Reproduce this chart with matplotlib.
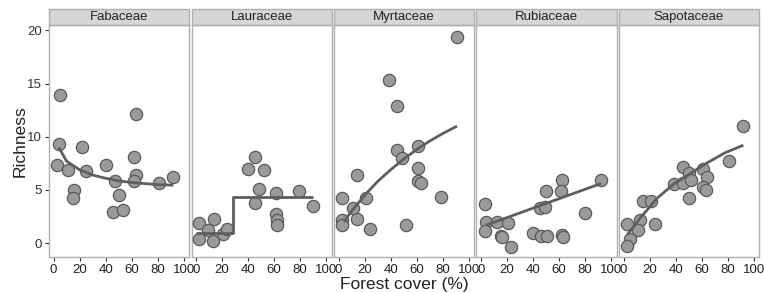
import matplotlib
matplotlib.use("Agg")
import matplotlib.pyplot as plt
from matplotlib.patches import Rectangle
import numpy as np

plt.rcParams['font.family'] = ['Liberation Sans', 'DejaVu Sans']

families = ["Fabaceae", "Lauraceae", "Myrtaceae", "Rubiaceae", "Sapotaceae"]

fab_x = [5, 4, 3, 11, 22, 25, 16, 15, 40, 47, 50, 46, 53, 63, 62, 63, 62, 81, 92]
fab_y = [13.9, 9.3, 7.3, 6.9, 9.0, 6.8, 5.0, 4.2, 7.3, 5.8, 4.5, 2.9, 3.1, 12.1, 8.1, 6.4, 5.8, 5.7, 6.2]
fab_fit_x = [4, 10, 20, 30, 40, 50, 60, 70, 80, 92]
fab_fit_y = [9.0, 7.7, 6.9, 6.4, 6.1, 5.85, 5.7, 5.6, 5.5, 5.45]

lau_x = [2, 14, 2, 13, 21, 24, 9, 45, 40, 52, 48, 45, 61, 61, 62, 62, 79, 90]
lau_y = [1.9, 2.3, 0.4, 0.2, 0.85, 1.3, 1.2, 8.1, 7.0, 6.9, 5.1, 3.8, 4.7, 2.7, 2.2, 1.7, 4.9, 3.5]
lau_fit_x = [0, 28, 28, 90]
lau_fit_y = [1.0, 1.0, 4.3, 4.3]

myr_x = [91, 39, 45, 45, 49, 61, 61, 61, 63, 79, 52, 14, 3, 21, 11, 14, 3, 3, 24]
myr_y = [19.4, 15.3, 12.9, 8.8, 8.0, 9.1, 7.1, 5.8, 5.7, 4.3, 1.7, 6.4, 4.2, 4.2, 3.3, 2.3, 2.2, 1.7, 1.3]
myr_fit_x = [4, 10, 20, 30, 40, 50, 60, 70, 80, 91]
myr_fit_y = [2.0, 3.0, 4.5, 5.8, 6.9, 7.9, 8.8, 9.6, 10.3, 11.0]

rub_x = [3, 4, 3, 12, 15, 16, 21, 23, 40, 46, 51, 50, 45, 49, 62, 61, 62, 63, 80, 92]
rub_y = [3.7, 2.0, 1.1, 2.0, 0.7, 0.6, 1.9, -0.4, 1.0, 0.7, 0.7, 4.9, 3.3, 3.4, 5.9, 4.9, 0.8, 0.6, 2.8, 5.9]
rub_fit_x = [4, 92]
rub_fit_y = [1.7, 5.6]

sap_x = [92, 81, 46, 50, 61, 64, 39, 46, 52, 61, 63, 50, 15, 21, 13, 24, 11, 3, 5, 3]
sap_y = [11.0, 7.7, 7.2, 6.6, 7.0, 6.2, 5.6, 5.7, 5.9, 5.3, 5.0, 4.2, 4.0, 4.0, 2.2, 1.8, 1.2, 1.8, 0.4, -0.3]
sap_fit_x = [3, 13, 26, 39, 52, 65, 78, 92]
sap_fit_y = [0.8, 2.4, 4.25, 5.6, 6.6, 7.6, 8.5, 9.2]

xs = [fab_x, lau_x, myr_x, rub_x, sap_x]
ys = [fab_y, lau_y, myr_y, rub_y, sap_y]
fxs = [fab_fit_x, lau_fit_x, myr_fit_x, rub_fit_x, sap_fit_x]
fys = [fab_fit_y, lau_fit_y, myr_fit_y, rub_fit_y, sap_fit_y]

W, H = 764, 293
fig = plt.figure(figsize=(W / 100, H / 100), dpi=100)

lefts = [49, 191.5, 334, 476.5, 619]
pw = 140
top_px, bot_px = 25, 257
strip_h = 16

for i, fam in enumerate(families):
    ax = fig.add_axes([lefts[i] / W, 1 - bot_px / H, pw / W, (bot_px - top_px) / H])
    ax.scatter(xs[i], ys[i], s=78, facecolor='#9a9a9a', edgecolor='#5a5a5a', linewidth=0.9, zorder=3)
    ax.plot(fxs[i], fys[i], color='#5e5e5e', lw=2.0, zorder=4, solid_capstyle='butt')
    ax.set_xlim(-3.5, 104)
    ax.set_ylim(-1.3, 20.5)
    ax.set_xticks([0, 20, 40, 60, 80, 100])
    ax.set_yticks([0, 5, 10, 15, 20])
    ax.tick_params(axis='both', labelsize=9.5, colors='#333333', length=3, width=0.8, pad=2)
    ax.tick_params(axis='x', labelcolor='#222222')
    for s in ax.spines.values():
        s.set_color('#b0b0b0')
        s.set_linewidth(1.0)
    if i > 0:
        ax.tick_params(axis='y', left=False, labelleft=False)
    else:
        ax.set_ylabel('Richness', fontsize=12.5, color='#222222', labelpad=0)
    sh = strip_h / (bot_px - top_px)
    ax.add_patch(Rectangle((0, 1.0), 1, sh, transform=ax.transAxes, facecolor='#d6d6d6',
                           edgecolor='#b0b0b0', linewidth=1.0, clip_on=False))
    ax.text(0.5, 1.0 + sh / 2, fam, transform=ax.transAxes, ha='center', va='center',
            fontsize=9.5, color='#222222')
    if i == 2:
        ax.set_xlabel('Forest cover (%)', fontsize=12.5, color='#222222', labelpad=1)

fig.savefig('out.png', dpi=100)
